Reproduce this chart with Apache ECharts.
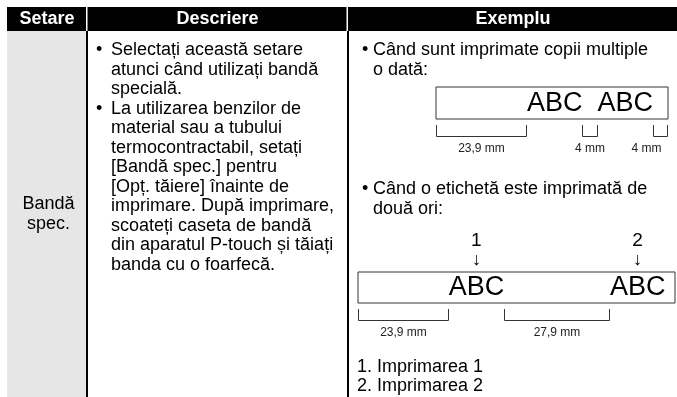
<!DOCTYPE html>
<html>
<head>
<meta charset="utf-8">
<script src="https://cdn.jsdelivr.net/npm/echarts@6/dist/echarts.min.js"></script>
<style>
html,body{margin:0;padding:0;background:#fff;}
#chart{width:677px;height:397px;}
</style>
</head>
<body>
<div id="chart"></div>
<script>
// ---- content ----
const headers = ['Setare', 'Descriere', 'Exemplu'];
const settingLines = ['Bandă', 'spec.'];
const descItems = [
  ['Selectați această setare', 'atunci când utilizați bandă', 'specială.'],
  ['La utilizarea benzilor de', 'material sau a tubului', 'termocontractabil, setați',
   '[Bandă spec.] pentru', '[Opț. tăiere] înainte de', 'imprimare. După imprimare,',
   'scoateți caseta de bandă', 'din aparatul P-touch și tăiați', 'banda cu o foarfecă.']
];
const example1Lines = ['Când sunt imprimate copii multiple', 'o dată:'];
const example2Lines = ['Când o etichetă este imprimată de', 'două ori:'];
const footnotes = ['1. Imprimarea 1', '2. Imprimarea 2'];

// tape 1: segment lengths in mm, kinds, labels
const tape1Lengths = [23.9, 14.5, 4, 14.5, 4];
const tape1Kinds   = ['gap', 'text', 'gap', 'text', 'gap'];
const tape1Labels  = ['23,9 mm', 'ABC', '4 mm', 'ABC', '4 mm'];
const tape1Marks   = ['', '', '', '', ''];
// tape 2
const tape2Lengths = [23.9, 14.5, 27.9, 14.5, 2.6];
const tape2Kinds   = ['gap', 'text', 'gap', 'text', 'margin'];
const tape2Labels  = ['23,9 mm', 'ABC', '27,9 mm', 'ABC', ''];
const tape2Marks   = ['', '1', '', '2', ''];

// ---- layout ----
const FONT = '"Liberation Sans", Arial, sans-serif';
const LH = 19.5;
const col = { x0: 7, x1: 86, x2: 347, right: 677 };
const headerTop = 7, headerBottom = 31;

function txt(text, x, y, opt) {
  opt = opt || {};
  const size = opt.size || 18;
  const weight = opt.weight || 'normal';
  const align = opt.align || 'left';
  return {
    type: 'text', z: 10,
    style: {
      text: text, x: x, y: y,
      fill: opt.fill || '#000',
      font: weight + ' ' + size + 'px ' + FONT,
      fontSize: size, fontFamily: FONT, fontWeight: weight,
      align: align, textAlign: align,
      verticalAlign: 'middle', textVerticalAlign: 'middle'
    }
  };
}

const g = [];
// header band
g.push({ type: 'rect', z: 1, shape: { x: col.x0, y: headerTop, width: col.right - col.x0, height: headerBottom - headerTop }, style: { fill: '#000' } });
g.push({ type: 'rect', z: 2, shape: { x: col.x1, y: headerTop, width: 1.5, height: headerBottom - headerTop }, style: { fill: '#fff' } });
g.push({ type: 'rect', z: 2, shape: { x: col.x2 - 0.5, y: headerTop, width: 1.5, height: headerBottom - headerTop }, style: { fill: '#fff' } });
// grey first column
g.push({ type: 'rect', z: 1, shape: { x: col.x0, y: headerBottom, width: col.x1 - col.x0, height: 397 - headerBottom }, style: { fill: '#e6e6e6' } });
// vertical rules
g.push({ type: 'rect', z: 2, shape: { x: col.x1, y: headerBottom, width: 2, height: 397 - headerBottom }, style: { fill: '#000' } });
g.push({ type: 'rect', z: 2, shape: { x: col.x2, y: headerBottom, width: 2, height: 397 - headerBottom }, style: { fill: '#000' } });

// header texts
const hy = (headerTop + headerBottom) / 2;
g.push(txt(headers[0], (col.x0 + col.x1 + 1) / 2, hy, { weight: 'bold', fill: '#fff', align: 'center' }));
g.push(txt(headers[1], (col.x1 + col.x2 + 2) / 2, hy, { weight: 'bold', fill: '#fff', align: 'center' }));
g.push(txt(headers[2], (col.x2 + 2 + col.right) / 2, hy, { weight: 'bold', fill: '#fff', align: 'center' }));

// setting column
const rowMid = (headerBottom + 397) / 2;
settingLines.forEach((s, i) => {
  g.push(txt(s, (col.x0 + col.x1) / 2 + 2, rowMid - LH / 2 + i * LH, { align: 'center' }));
});

// description
let y = 50.5;
descItems.forEach(item => {
  item.forEach((line, i) => {
    if (i === 0) g.push(txt('•', 96, y));
    g.push(txt(line, 111, y));
    y += LH;
  });
});

// example texts
function bulletBlock(lines, y0) {
  lines.forEach((line, i) => {
    if (i === 0) g.push(txt('•', 362, y0));
    g.push(txt(line, 373, y0 + i * LH));
  });
}
bulletBlock(example1Lines, 50.5);
bulletBlock(example2Lines, 189.5);
footnotes.forEach((f, i) => g.push(txt(f, 357, 367 + i * LH)));

// ---- tape series ----
function cumulative(lengths) {
  const out = []; let s = 0;
  lengths.forEach(l => { out.push([s, s + l]); s += l; });
  return out;
}
const tape1Data = cumulative(tape1Lengths);
const tape2Data = cumulative(tape2Lengths);
const total = a => a.reduce((p, c) => p + c, 0);

function makeRender(kinds, labels, marks) {
  return function (params, api) {
    const i = params.dataIndex;
    const last = i === kinds.length - 1;
    const a = api.coord([api.value(0), 0]);
    const b = api.coord([api.value(1), 1]);
    const x0 = Math.round(a[0]) + 0.5, x1 = Math.round(b[0]) - 0.5;
    const bottom = a[1], top = b[1];
    const children = [];
    if (kinds[i] === 'gap') {
      children.push({
        type: 'polyline',
        shape: { points: [[x0, bottom + 6], [x0, bottom + 17.5], [x1, bottom + 17.5], [x1, bottom + 6]] },
        style: { stroke: '#333', lineWidth: 1, fill: null }
      });
      children.push({
        type: 'text',
        style: { text: labels[i], x: last ? x1 - 6 : (x0 + x1) / 2, y: bottom + 29.5, fill: '#222',
          font: '12px ' + FONT, align: last ? 'right' : 'center', verticalAlign: 'middle' }
      });
    } else if (kinds[i] === 'text') {
      children.push({
        type: 'text',
        style: { text: labels[i], x: a[0], y: (top + bottom) / 2 + 0.5, fill: '#000',
          font: '27px ' + FONT, align: 'left', verticalAlign: 'middle' }
      });
      if (marks[i]) {
        const cx = (a[0] + b[0]) / 2;
        children.push({
          type: 'text',
          style: { text: marks[i], x: cx, y: top - 31, fill: '#000',
            font: '19px ' + FONT, align: 'center', verticalAlign: 'middle' }
        });
        children.push({
          type: 'text',
          style: { text: '↓', x: cx, y: top - 12, fill: '#000',
            font: '18px ' + FONT, align: 'center', verticalAlign: 'middle' }
        });
      }
    }
    return { type: 'group', children: children };
  };
}

const chart = echarts.init(document.getElementById('chart'), null, { renderer: 'canvas' });
chart.setOption({
  backgroundColor: '#fff',
  animation: false,
  graphic: { elements: g },
  grid: [
    { left: 436, top: 87, width: 232, height: 32, show: true, borderColor: '#333', borderWidth: 1, backgroundColor: '#fff' },
    { left: 358, top: 272, width: 317, height: 31, show: true, borderColor: '#333', borderWidth: 1, backgroundColor: '#fff' }
  ],
  xAxis: [
    { type: 'value', gridIndex: 0, min: 0, max: total(tape1Lengths), show: false },
    { type: 'value', gridIndex: 1, min: 0, max: total(tape2Lengths), show: false }
  ],
  yAxis: [
    { type: 'value', gridIndex: 0, min: 0, max: 1, show: false },
    { type: 'value', gridIndex: 1, min: 0, max: 1, show: false }
  ],
  series: [
    { type: 'custom', xAxisIndex: 0, yAxisIndex: 0, clip: false, silent: true,
      renderItem: makeRender(tape1Kinds, tape1Labels, tape1Marks), data: tape1Data },
    { type: 'custom', xAxisIndex: 1, yAxisIndex: 1, clip: false, silent: true,
      renderItem: makeRender(tape2Kinds, tape2Labels, tape2Marks), data: tape2Data }
  ]
});
</script>
</body>
</html>
